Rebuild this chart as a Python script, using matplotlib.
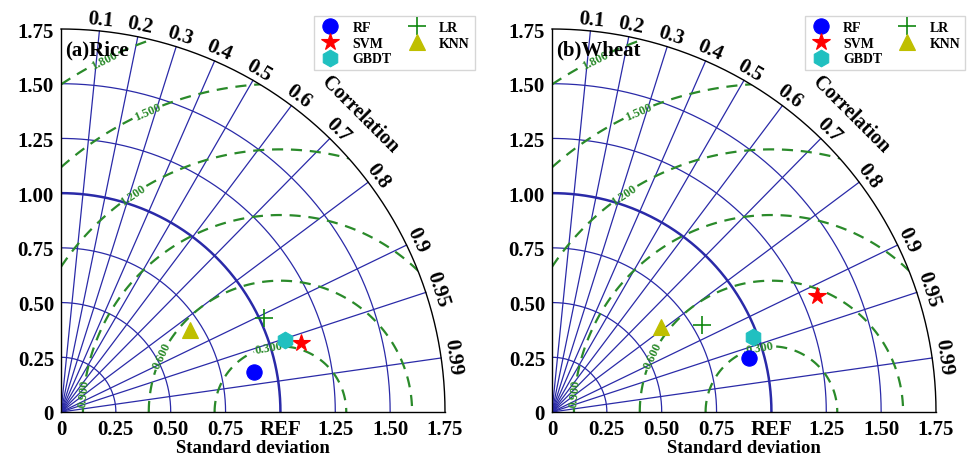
import numpy as np
import matplotlib
matplotlib.use("Agg")
import matplotlib.pyplot as plt
from matplotlib.patches import Wedge

plt.rcParams['font.family'] = ['Liberation Serif', 'DejaVu Serif']
plt.rcParams['font.weight'] = 'bold'

# ---------------- data ----------------
models = ['RF', 'SVM', 'GBDT', 'LR', 'KNN']
rice_std = [0.90, 1.14, 1.07, 1.02, 0.70]
rice_corr = [0.979, 0.961, 0.952, 0.907, 0.843]
wheat_std = [0.93, 1.32, 0.98, 0.79, 0.63]
wheat_corr = [0.964, 0.916, 0.936, 0.865, 0.788]
panel_titles = ['(a)Rice', '(b)Wheat']

std_ticks = [0, 0.25, 0.50, 0.75, 1.00, 1.25, 1.50, 1.75]
x_tick_labels = ['0', '0.25', '0.50', '0.75', 'REF', '1.25', '1.50', '1.75']
y_tick_labels = ['0', '0.25', '0.50', '0.75', '1.00', '1.25', '1.50', '1.75']
corr_ticks = [0.1, 0.2, 0.3, 0.4, 0.5, 0.6, 0.7, 0.8, 0.9, 0.95, 0.99]
corr_tick_labels = ['0.1', '0.2', '0.3', '0.4', '0.5', '0.6', '0.7', '0.8', '0.9', '0.95', '0.99']
rms_levels = [0.3, 0.6, 0.9, 1.2, 1.5, 1.8]
ref_std = 1.0
rmax = 1.75

# styles
markers = ['o', '*', 'h', '+', '^']
colors = ['#0000ff', '#ff0000', '#20c0c0', '#118811', '#bfbf00']
msizes = [11, 13, 12, 13, 12]
grid_col = '#2a2aa8'
rms_col = '#2a8a2a'

# manual label positions for RMS contours (data coords)
label_pos = [(0.95, 0.29), (0.46, 0.26), (0.10, 0.09), (0.33, 0.99), (0.40, 1.36), (0.20, 1.60)]

fig = plt.figure(figsize=(9.69, 4.60), dpi=100)
W, H = 969, 460
ax_px_w = 384
ax_px_h = 383
lefts = [61, 552]
bottom_px = 47


def draw_panel(ax, stds, corrs, title):
    ax.set_xlim(0, rmax)
    ax.set_ylim(0, rmax)
    for s in ['top', 'right']:
        ax.spines[s].set_visible(False)
    for s in ['left', 'bottom']:
        ax.spines[s].set_linewidth(1.0)
        ax.spines[s].set_color('black')
    ax.set_xticks(std_ticks)
    ax.set_xticklabels(x_tick_labels)
    ax.set_yticks(std_ticks)
    ax.set_yticklabels(y_tick_labels)
    ax.tick_params(axis='both', length=0, labelsize=15, pad=5)
    for lab in ax.get_xticklabels() + ax.get_yticklabels():
        lab.set_fontweight('bold')
    ax.set_xlabel('Standard deviation', fontsize=13.5, fontweight='bold', labelpad=0)

    th = np.linspace(0, np.pi / 2, 300)
    # std arcs
    for r in std_ticks[1:-1]:
        lw = 1.8 if r == ref_std else 0.9
        ax.plot(r * np.cos(th), r * np.sin(th), color=grid_col, lw=lw, zorder=2)
    # outer arc
    ax.plot(rmax * np.cos(th), rmax * np.sin(th), color='black', lw=1.0, zorder=3, clip_on=False)
    # correlation lines and labels
    for c, lab in zip(corr_ticks, corr_tick_labels):
        t = np.arccos(c)
        ax.plot([0, rmax * np.cos(t)], [0, rmax * np.sin(t)], color=grid_col, lw=0.9, zorder=2)
        rl = 1.805
        ax.text(rl * np.cos(t), rl * np.sin(t), lab, rotation=np.degrees(t) - 90,
                ha='center', va='center', fontsize=15, fontweight='bold',
                rotation_mode='anchor', clip_on=False)
    ta = np.radians(45)
    ax.text(1.925 * np.cos(ta), 1.925 * np.sin(ta), 'Correlation', rotation=-45,
            ha='center', va='center', fontsize=14.5, fontweight='bold',
            rotation_mode='anchor', clip_on=False)

    # RMS contours
    xs = np.linspace(0, rmax, 400)
    X, Y = np.meshgrid(xs, xs)
    R = np.sqrt((X - ref_std) ** 2 + Y ** 2)
    cs = ax.contour(X, Y, R, levels=rms_levels, colors=rms_col, linewidths=1.6,
                    linestyles=[(0, (5, 3.5))], zorder=2.5)
    clip = Wedge((0, 0), rmax, 0, 90, transform=ax.transData, facecolor='none', edgecolor='none')
    ax.add_patch(clip)
    cs.set_clip_path(clip)
    labs = ax.clabel(cs, manual=label_pos, fmt='%.3f', fontsize=9, inline=True, inline_spacing=2)
    for t in labs:
        t.set_fontweight('bold')
        t.set_color(rms_col)

    # points
    handles = []
    for name, s, c, m, col, ms in zip(models, stds, corrs, markers, colors, msizes):
        t = np.arccos(c)
        h, = ax.plot(s * np.cos(t), s * np.sin(t), linestyle='none', marker=m, color=col,
                     markersize=ms, markeredgewidth=1.2 if m == '+' else 0.8, zorder=5, label=name)
        handles.append(h)

    ax.text(0.02, 1.655, title, fontsize=15, fontweight='bold', ha='left', va='center', zorder=6)
    return handles


legend_anchor = [(0.497, 0.978), (1.003, 0.978)]
for i, (stds, corrs) in enumerate([(rice_std, rice_corr), (wheat_std, wheat_corr)]):
    ax = fig.add_axes([lefts[i] / W, bottom_px / H, ax_px_w / W, ax_px_h / H])
    handles = draw_panel(ax, stds, corrs, panel_titles[i])
    leg = fig.legend(handles=handles, labels=[h.get_label() for h in handles], ncol=2,
                     loc='upper right', bbox_to_anchor=legend_anchor[i],
                     fontsize=10, frameon=True, fancybox=False, edgecolor='#cccccc',
                     handletextpad=0.8, columnspacing=1.0, labelspacing=0.2,
                     borderpad=0.35, handlelength=1.6)
    for t in leg.get_texts():
        t.set_fontweight('bold')

fig.savefig('out.png', dpi=100)
